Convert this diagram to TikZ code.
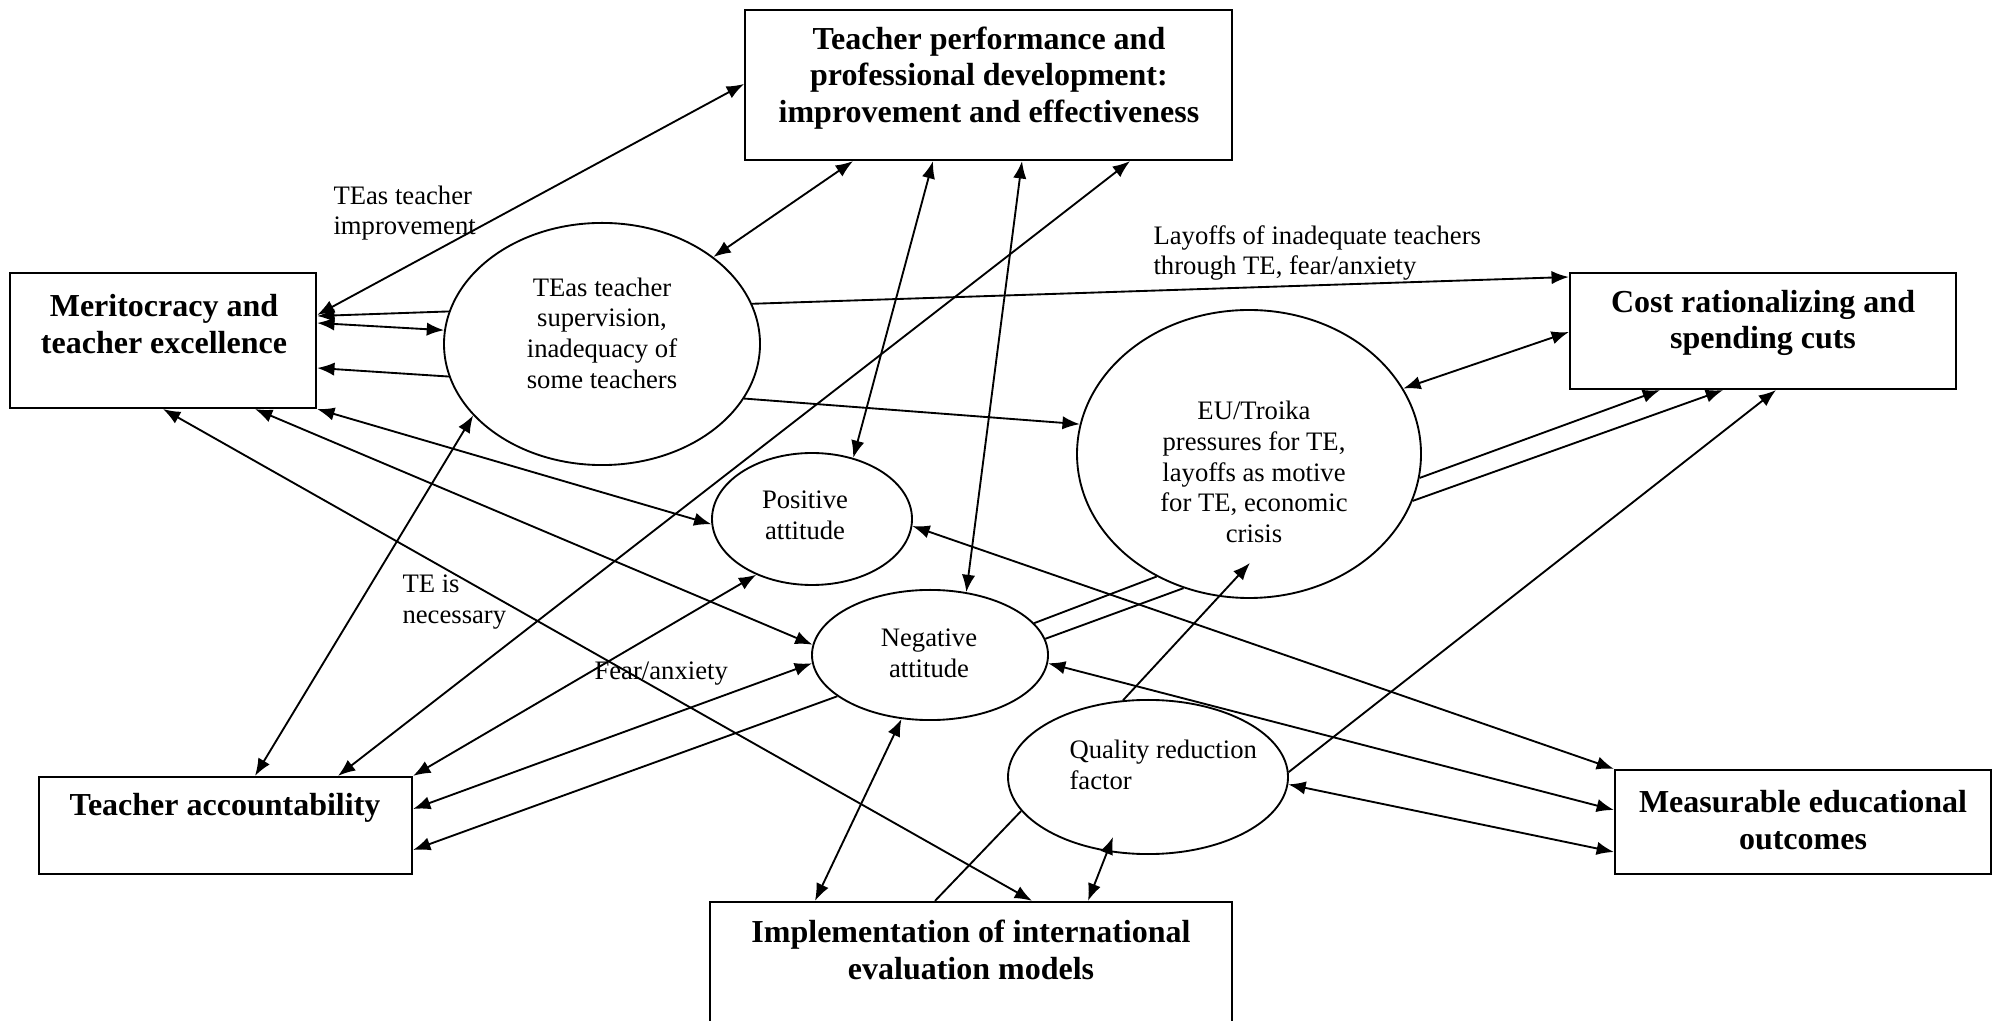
\documentclass[tikz,border=0pt]{standalone}
\usepackage{fontspec}
\setmainfont{Liberation Serif}
\usetikzlibrary{arrows.meta,calc,shapes.geometric}

\tikzset{
  box/.style={draw, line width=0.8pt, rectangle, inner sep=0pt},
  oval/.style={draw, line width=0.7pt, ellipse, inner sep=0pt},
  head/.style={font=\bfseries\fontsize{12}{13.8}\selectfont, align=center, inner sep=0pt},
  txt/.style={font=\fontsize{10}{11.5}\selectfont, align=center, inner sep=0pt},
  note/.style={font=\fontsize{10}{11.5}\selectfont, align=left, anchor=west, inner sep=0pt},
  link/.style={line width=0.7pt, -{Latex[length=6.5pt,width=5pt]}},
  both/.style={line width=0.7pt, {Latex[length=6.5pt,width=5pt]}-{Latex[length=6.5pt,width=5pt]}},
  plain/.style={line width=0.7pt},
}

\begin{document}
\begin{tikzpicture}[x=0.375pt, y=-0.375pt]
\clip (0,0) rectangle (1993,1021);

% boxes
\node[box, minimum width=182.6pt, minimum height=56.3pt] (tp) at (988.5,85) {};
\node[box, minimum width=114.8pt, minimum height=50.6pt] (merit) at (163,340.5) {};
\node[box, minimum width=144.8pt, minimum height=43.5pt] (cost) at (1763,331) {};
\node[box, minimum width=139.9pt, minimum height=36.4pt] (ta) at (225.5,825.5) {};
\node[box, minimum width=141pt, minimum height=39pt] (meo) at (1803,822) {};
\node[box, minimum width=195.8pt, minimum height=51.8pt] (impl) at (971,971) {};

\node[head] (tp-t) at (989,78) {Teacher performance and\\professional development:\\improvement and effectiveness};
\node[head] (merit-t) at (164,324) {Meritocracy and\\teacher excellence};
\node[head] (cost-t) at (1763,323) {Cost rationalizing and\\spending cuts};
\node[head] (ta-t) at (225,808) {Teacher accountability};
\node[head] (meo-t) at (1803,820) {Measurable educational\\outcomes};
\node[head] (impl-t) at (971,950) {Implementation of international\\evaluation models};

% ellipses
\node[oval, minimum width=118.5pt, minimum height=90.8pt] (sup) at (602,344) {};
\node[oval, minimum width=129pt, minimum height=108pt] (eu) at (1249,454) {};
\node[oval, minimum width=75pt, minimum height=49.5pt] (pos) at (812,519) {};
\node[oval, minimum width=88.5pt, minimum height=48.8pt] (neg) at (930,655) {};
\node[oval, minimum width=105pt, minimum height=57.8pt] (qual) at (1148,777) {};

\node[txt] (sup-t) at (602,333) {TEas teacher\\supervision,\\inadequacy of\\some teachers};
\node[txt] (eu-t) at (1254,472) {EU/Troika\\pressures for TE,\\layoffs as motive\\for TE, economic\\crisis};
\node[txt] (pos-t) at (805,515) {Positive\\attitude};
\node[txt] (neg-t) at (929,653) {Negative\\attitude};
\node[note] (qual-t) at (1069,765) {Quality reduction\\factor};

% labels
\node[note] (lbl-imp) at (333,213) {TEas teacher\\improvement};
\node[note] (lbl-lay) at (1153,253) {Layoffs of inadequate teachers\\through TE, fear/anxiety};
\node[note] (lbl-nec) at (402,602) {TE is\\necessary};
\node[note] (lbl-fear) at (594,674) {Fear/anxiety};

% teacher performance
\draw[both] (tp.west |- 0,84) -- (merit.east |- 0,315);
\draw[both] (tp.south -| 853,0) -- (sup.38);
\draw[both] (tp.south -| 933,0) -- (pos.56);
\draw[both] (tp.south -| 1022,0) -- (neg.60);
\draw[both] (tp.south -| 1130,0) -- (ta.north -| 338,0);

% supervision
\draw[link] (sup.168) -- (merit.east |- 0,316);
\draw[both] (merit.east |- 0,323) -- (sup.175);
\draw[link] (sup.192) -- (merit.east |- 0,368);
\draw[link] (sup.15) -- (cost.west |- 0,277);
\draw[link] (sup.339) -- (eu.170);
\draw[both] (sup.209) -- (ta.north -| 255,0);

% meritocracy
\draw[both] (merit.south east) -- (pos.183);
\draw[both] (merit.south -| 255,0) -- (neg.175);
\draw[both] (merit.south) -- (impl.north -| 1032,0);

% accountability
\draw[both] (ta.north east) -- (pos.225);
\draw[both] (ta.east |- 0,809) -- (neg.184);
\draw[link] (neg.204) -- (ta.east |- 0,850);

% negative
\draw[both] (neg.246) -- (impl.north -| 815,0);
\draw[plain] (neg.17) -- (eu.233);
\draw[plain] (neg.8) -- (eu.244);

% measurable outcomes
\draw[both] (pos.356) -- (meo.north west);
\draw[both] (neg.356) -- (meo.west |- 0,810);
\draw[both] (qual.357) -- (meo.west |- 0,852);

% quality
\coordinate (eu-in) at ($(eu.south)+(1,-36)$);
\coordinate (qual-in) at ($(qual.south)+(-35,-18)$);
\draw[link] (qual.108) -- (eu-in);
\draw[link] (qual.2) -- (cost.south -| 1776,0);
\draw[both] (qual-in) -- (impl.north -| 1088,0);
\draw[plain] (qual.195) -- (impl.north -| 935,0);

% cost
\draw[both] (eu.23) -- (cost.west |- 0,332);
\draw[link] (eu.352) -- (cost.south -| 1660,0);
\draw[link] (eu.344) -- (cost.south -| 1723,0);
\end{tikzpicture}
\end{document}
